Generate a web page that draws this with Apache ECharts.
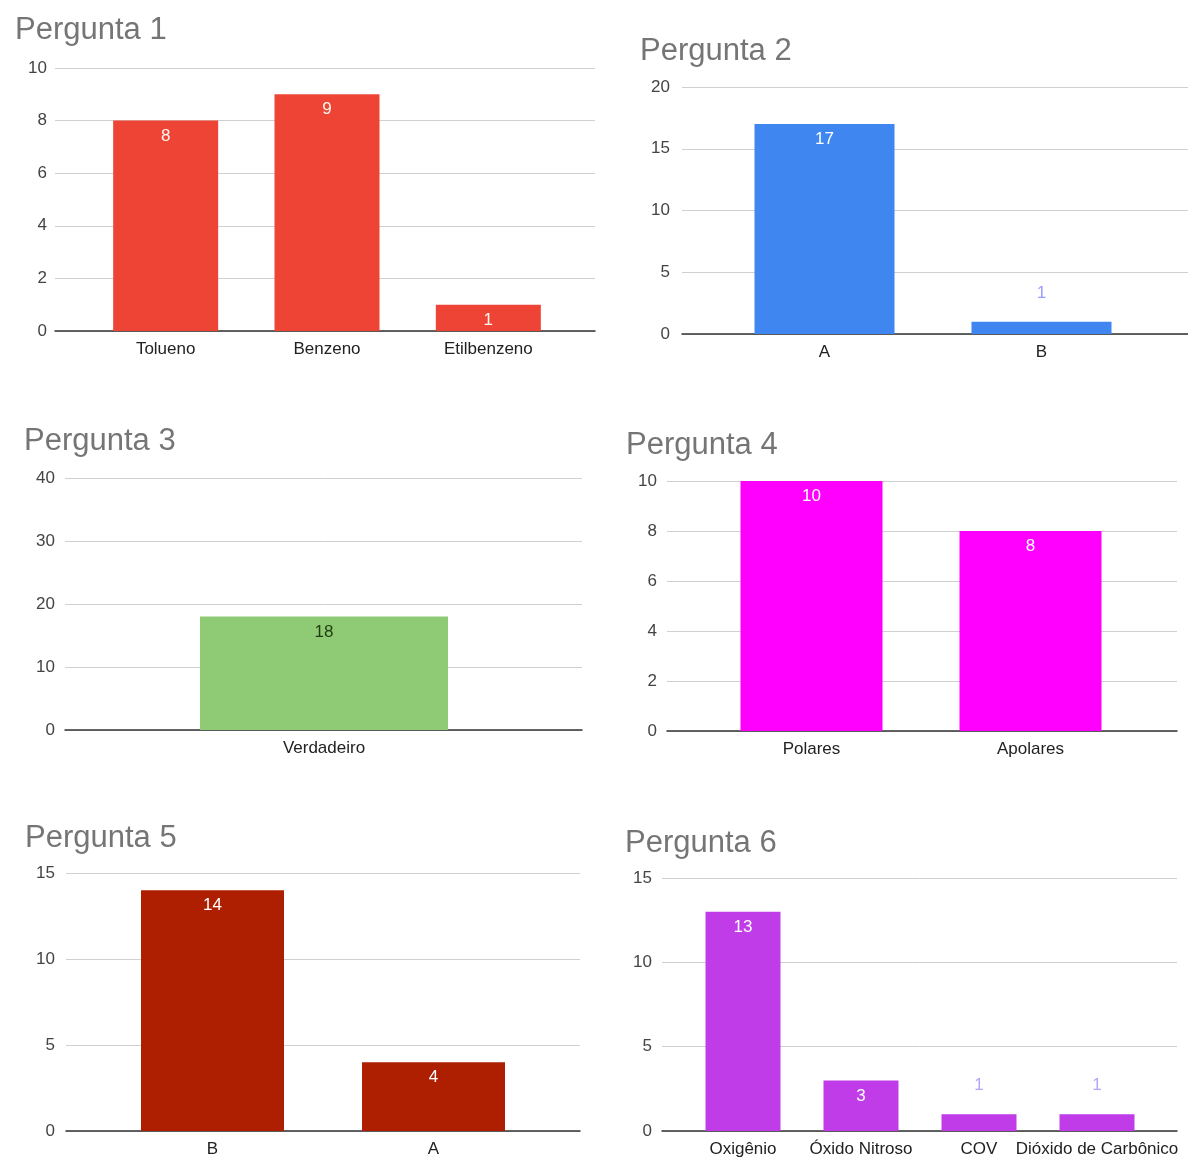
<!DOCTYPE html>
<html>
<head>
<meta charset="utf-8">
<script src="https://cdn.jsdelivr.net/npm/echarts@6/dist/echarts.min.js"></script>
<style>
  html, body { margin: 0; padding: 0; background: #fff; }
  #main { width: 1188px; height: 1158px; }
</style>
</head>
<body>
<div id="main"></div>
<script>
// dados de cada pergunta
var titles = ['Pergunta 1', 'Pergunta 2', 'Pergunta 3', 'Pergunta 4', 'Pergunta 5', 'Pergunta 6'];

var cats1 = ['Tolueno', 'Benzeno', 'Etilbenzeno'];
var vals1 = [8, 9, 1];
var cats2 = ['A', 'B'];
var vals2 = [17, 1];
var cats3 = ['Verdadeiro'];
var vals3 = [18];
var cats4 = ['Polares', 'Apolares'];
var vals4 = [10, 8];
var cats5 = ['B', 'A'];
var vals5 = [14, 4];
var cats6 = ['Oxigênio', 'Óxido Nitroso', 'COV', 'Dióxido de Carbônico'];
var vals6 = [13, 3, 1, 1];

var yMax = [10, 20, 40, 10, 15, 15];
var yStep = [2, 5, 10, 2, 5, 5];

var allCats = [cats1, cats2, cats3, cats4, cats5, cats6];
var allVals = [vals1, vals2, vals3, vals4, vals5, vals6];

// posicao e estilo de cada grafico
var layout = [
  {tl: 15,  tt: 15,  left: 55,  right: 595,  top: 68,  bottom: 331,  barLeft: 85,  barArea: 484, barW: 105, margin: 8,  color: '#ee4435', lbl: '#fff8f0', out: '#ee4435'},
  {tl: 640, tt: 36,  left: 682, right: 1188, top: 87,  bottom: 334,  barLeft: 716, barArea: 434, barW: 140, margin: 12, color: '#3f86f0', lbl: '#ffffff', out: '#9a9cff'},
  {tl: 24,  tt: 426, left: 65,  right: 582,  top: 478, bottom: 730,  barLeft: 124, barArea: 400, barW: 248, margin: 10, color: '#8fca75', lbl: '#1f3d10', out: '#1f3d10'},
  {tl: 626, tt: 430, left: 667, right: 1177, top: 481, bottom: 731,  barLeft: 702, barArea: 438, barW: 142, margin: 10, color: '#ff00ff', lbl: '#ffffff', out: '#ff88ff'},
  {tl: 25,  tt: 823, left: 66,  right: 580,  top: 873, bottom: 1131, barLeft: 102, barArea: 442, barW: 143, margin: 11, color: '#ad1f00', lbl: '#ffffff', out: '#ad1f00'},
  {tl: 625, tt: 828, left: 662, right: 1177, top: 878, bottom: 1131, barLeft: 684, barArea: 472, barW: 75,  margin: 10, color: '#c03ce8', lbl: '#ffffff', out: '#b7a4ff'}
];

var font = 'Liberation Sans, Arial, sans-serif';

var option = {
  backgroundColor: '#fff',
  animation: false,
  title: [],
  grid: [],
  xAxis: [],
  yAxis: [],
  series: []
};

for (var i = 0; i < 6; i++) {
  var L = layout[i];
  var h = L.bottom - L.top;

  option.title.push({
    text: titles[i],
    left: L.tl,
    top: L.tt,
    padding: 0,
    textStyle: {fontFamily: font, fontSize: 31, fontWeight: 'normal', color: '#757575'}
  });

  // grade de fundo: linhas de grade, eixo y e linha do zero
  option.grid.push({left: L.left, top: L.top, width: L.right - L.left, height: h});
  option.xAxis.push({
    type: 'value', gridIndex: 2 * i, min: 0, max: 1,
    axisLine: {show: true, onZero: false, lineStyle: {color: '#333', width: 1.5}},
    axisTick: {show: false}, axisLabel: {show: false}, splitLine: {show: false}
  });
  option.yAxis.push({
    type: 'value', gridIndex: 2 * i, min: 0, max: yMax[i], interval: yStep[i],
    axisLine: {show: false}, axisTick: {show: false},
    axisLabel: {margin: L.margin, fontFamily: font, fontSize: 17, color: '#444'},
    splitLine: {lineStyle: {color: '#d0d0d0', width: 1}}
  });

  // grade das barras
  option.grid.push({left: L.barLeft, top: L.top, width: L.barArea, height: h});
  option.xAxis.push({
    type: 'category', gridIndex: 2 * i + 1, data: allCats[i],
    axisLine: {show: false}, axisTick: {show: false},
    axisLabel: {margin: 10, interval: 0, fontFamily: font, fontSize: 17, color: '#222'}
  });
  option.yAxis.push({
    type: 'value', gridIndex: 2 * i + 1, min: 0, max: yMax[i], interval: yStep[i], show: false
  });

  var data = [];
  for (var j = 0; j < allVals[i].length; j++) {
    var v = allVals[i][j];
    var small = v / yMax[i] < 0.08;
    data.push({
      value: v,
      label: small
        ? {position: 'top', distance: 20, color: L.out}
        : {position: 'insideTop', distance: 7, color: L.lbl}
    });
  }

  option.series.push({
    type: 'bar',
    name: titles[i],
    xAxisIndex: 2 * i + 1,
    yAxisIndex: 2 * i + 1,
    barWidth: L.barW,
    itemStyle: {color: L.color},
    label: {show: true, fontFamily: font, fontSize: 17},
    data: data
  });
}

var myChart = echarts.init(document.getElementById('main'), null, {renderer: 'canvas'});
myChart.setOption(option);
</script>
</body>
</html>
